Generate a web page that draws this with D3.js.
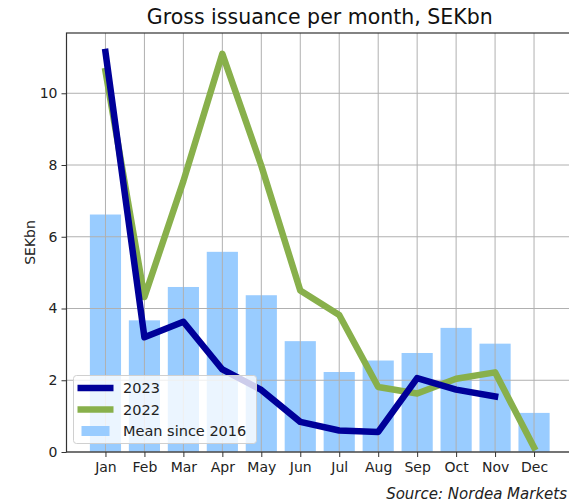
<!DOCTYPE html>
<html>
<head>
<meta charset="utf-8">
<script src="https://cdn.jsdelivr.net/npm/d3@7"></script>
<style>
  body { margin: 0; background: #fff; }
  svg { display: block; font-family: 'DejaVu Sans', sans-serif; }
</style>
</head>
<body>
<div id="chart"></div>
<script>
// month labels on the x axis
const months = ['Jan', 'Feb', 'Mar', 'Apr', 'May', 'Jun', 'Jul', 'Aug', 'Sep', 'Oct', 'Nov', 'Dec'];
// SEKbn
const issuance2023 = [11.15, 3.2, 3.63, 2.3, 1.73, 0.84, 0.6, 0.56, 2.06, 1.74, 1.55];
const issuance2022 = [10.62, 4.32, 7.55, 11.1, 7.98, 4.5, 3.82, 1.81, 1.63, 2.04, 2.22, 0.13];
const meanSince2016 = [6.62, 3.67, 4.6, 5.58, 4.37, 3.09, 2.23, 2.55, 2.76, 3.46, 3.02, 1.09];
const yTicks = [0, 2, 4, 6, 8, 10];

const W = 569, H = 503;
const margin = { top: 33, right: -4, bottom: 51, left: 66.5 };
const width = W - margin.left - margin.right;
const height = H - margin.top - margin.bottom;

const x = d3.scaleLinear().domain([-1, 12]).range([0, width]);
const y = d3.scaleLinear().domain([0, 11.68]).range([height, 0]);
const bw = (x(1) - x(0)) * 0.8;

const svg = d3.select('#chart').append('svg')
    .attr('width', W)
    .attr('height', H);

const g = svg.append('g')
    .attr('transform', `translate(${margin.left}, ${margin.top})`);

// bars: mean since 2016
g.selectAll('.bar')
    .data(meanSince2016)
    .enter()
    .append('rect')
    .attr('class', 'bar')
    .attr('x', (d, i) => x(i) - bw / 2)
    .attr('y', d => y(d))
    .attr('width', bw)
    .attr('height', d => height - y(d))
    .style('fill', '#99ccff');

// grid (drawn over the bars, under the lines, like matplotlib)
g.append('g').selectAll('line')
    .data(d3.range(12))
    .enter().append('line')
    .attr('x1', d => x(d)).attr('x2', d => x(d))
    .attr('y1', 0).attr('y2', height)
    .style('stroke', '#b0b0b0').style('stroke-width', 1);
g.append('g').selectAll('line')
    .data(yTicks)
    .enter().append('line')
    .attr('x1', 0).attr('x2', width)
    .attr('y1', d => y(d)).attr('y2', d => y(d))
    .style('stroke', '#b0b0b0').style('stroke-width', 1);

const line = d3.line()
    .x((d, i) => x(i))
    .y(d => y(d));

g.append('path')
    .datum(issuance2022)
    .attr('d', line)
    .style('fill', 'none')
    .style('stroke', '#88b04b')
    .style('stroke-width', 6.5)
    .style('stroke-linejoin', 'round')
    .style('stroke-linecap', 'square');

g.append('path')
    .datum(issuance2023)
    .attr('d', line)
    .style('fill', 'none')
    .style('stroke', '#000099')
    .style('stroke-width', 6.5)
    .style('stroke-linejoin', 'round')
    .style('stroke-linecap', 'square');

// frame
g.append('rect')
    .attr('width', width).attr('height', height)
    .style('fill', 'none')
    .style('stroke', '#333')
    .style('stroke-width', 1.2);

// x axis
const xAxis = g.append('g')
    .attr('transform', `translate(0, ${height})`)
    .call(d3.axisBottom(x).tickValues(d3.range(12)).tickFormat(i => months[i])
        .tickSize(5).tickSizeOuter(0).tickPadding(5));
xAxis.select('.domain').remove();
xAxis.selectAll('text').style('font-size', '14px').style('font-family', 'DejaVu Sans').attr('fill', '#222');
xAxis.selectAll('line').attr('stroke', '#333');

// y axis
const yAxis = g.append('g')
    .call(d3.axisLeft(y).tickValues(yTicks).tickSize(5).tickSizeOuter(0).tickPadding(4));
yAxis.select('.domain').remove();
yAxis.selectAll('text').style('font-size', '14px').style('font-family', 'DejaVu Sans').attr('fill', '#222');
yAxis.selectAll('line').attr('stroke', '#333');

g.append('text')
    .attr('transform', `translate(-36, ${height / 2}) rotate(-90)`)
    .attr('text-anchor', 'middle')
    .attr('dy', '0.35em')
    .style('font-size', '14px')
    .attr('fill', '#222')
    .text('SEKbn');

// title
svg.append('text')
    .attr('x', margin.left + width / 2)
    .attr('y', 24)
    .attr('text-anchor', 'middle')
    .style('font-size', '20.5px')
    .attr('fill', '#111')
    .text('Gross issuance per month, SEKbn');

// source (kept just inside the right edge)
svg.append('text')
    .attr('x', 567)
    .attr('y', 499)
    .attr('text-anchor', 'end')
    .style('font-size', '15px')
    .style('font-style', 'italic')
    .attr('fill', '#222')
    .text('Source: Nordea Markets');

// legend
const legend = svg.append('g').attr('transform', 'translate(73.5, 375.5)');
legend.append('rect')
    .attr('width', 183).attr('height', 68)
    .attr('rx', 3)
    .style('fill', 'rgba(255,255,255,0.8)')
    .style('stroke', '#d0d0d0');
const items = [
    { label: '2023', color: '#000099', type: 'line' },
    { label: '2022', color: '#88b04b', type: 'line' },
    { label: 'Mean since 2016', color: '#99ccff', type: 'bar' }
];
items.forEach((d, i) => {
    const cy = 12.5 + i * 21.5;
    if (d.type === 'line') {
        legend.append('line')
            .attr('x1', 4).attr('x2', 40)
            .attr('y1', cy).attr('y2', cy)
            .style('stroke', d.color).style('stroke-width', 6.5);
    } else {
        legend.append('rect')
            .attr('x', 8).attr('y', cy - 5)
            .attr('width', 28).attr('height', 10)
            .style('fill', d.color);
    }
    legend.append('text')
        .attr('x', 49.5).attr('y', cy)
        .attr('dy', '0.35em')
        .style('font-size', '14.5px')
        .attr('fill', '#222')
        .text(d.label);
});
</script>
</body>
</html>
